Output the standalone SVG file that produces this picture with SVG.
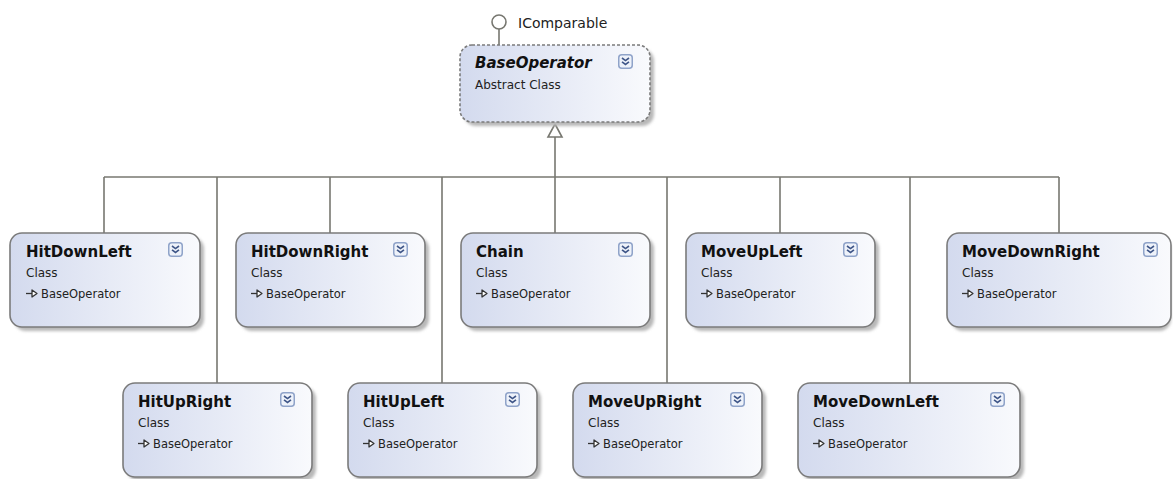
<svg xmlns="http://www.w3.org/2000/svg" xmlns:xlink="http://www.w3.org/1999/xlink" width="1173" height="479" viewBox="0 0 1173 479">
<defs>
  <linearGradient id="fillGrad" x1="0" y1="0" x2="1" y2="0">
    <stop offset="0" stop-color="#d3daee"/>
    <stop offset="1" stop-color="#f9fafd"/>
  </linearGradient>
  <filter id="blur" x="-10%" y="-10%" width="120%" height="130%">
    <feGaussianBlur stdDeviation="1.5"/>
  </filter>
  <symbol id="chev" viewBox="0 0 15 15" width="15" height="15" overflow="visible">
    <rect x="0.75" y="0.75" width="13.5" height="13.5" rx="3" fill="#eef2fa" stroke="#8fa3c9" stroke-width="1.5"/>
    <path d="M4 4 L7.5 6.6 L11 4 M4 7.8 L7.5 10.4 L11 7.8" fill="none" stroke="#3f5688" stroke-width="1.6"/>
  </symbol>
  <symbol id="inh" viewBox="0 0 13 9" width="13" height="9" overflow="visible">
    <path d="M0 4.5 H6" stroke="#333" stroke-width="1.3"/>
    <path d="M6 1 L11 4.5 L6 8 Z" fill="#fff" stroke="#333" stroke-width="1.3" stroke-linejoin="round"/>
  </symbol>
</defs>
<style>
  .box { fill: url(#fillGrad); stroke: #7b7b7b; stroke-width: 1.6; }
  .abstract { stroke-dasharray: 3 2; }
  .shadow { fill: #b8b8b8; filter: url(#blur); }
  .title { font-family: "DejaVu Sans", "Liberation Sans", sans-serif; font-size: 15px; font-weight: bold; fill: #111; }
  .ital { font-style: italic; }
  .sub { font-family: "DejaVu Sans", "Liberation Sans", sans-serif; font-size: 12px; fill: #222; }
  .base { font-family: "DejaVu Sans", "Liberation Sans", sans-serif; font-size: 11.5px; fill: #222; }
  .iface { font-family: "DejaVu Sans", "Liberation Sans", sans-serif; font-size: 14px; fill: #222; }
  .conn { fill: none; stroke: #777770; stroke-width: 1.6; }
</style>
<rect width="1173" height="479" fill="#ffffff"/>

<g id="connectors">
  <path class="conn" d="M499 29 V45"/>
  <circle cx="499" cy="22" r="7" fill="#fff" stroke="#777770" stroke-width="1.6"/>
  <path class="conn" d="M555 137 V177"/>
  <path d="M555 124 L562 137 L548 137 Z" fill="#fff" stroke="#777770" stroke-width="1.6" stroke-linejoin="miter"/>
  <path class="conn" d="M104 177 H1059"/>
  <path class="conn" d="M104 177 V233"/>
  <path class="conn" d="M330 177 V233"/>
  <path class="conn" d="M555 177 V233"/>
  <path class="conn" d="M780 177 V233"/>
  <path class="conn" d="M1059 177 V233"/>
  <path class="conn" d="M217 177 V383"/>
  <path class="conn" d="M442 177 V383"/>
  <path class="conn" d="M667 177 V383"/>
  <path class="conn" d="M910 177 V383"/>
</g>

<g id="IComparable">
  <text class="iface" x="518" y="28">IComparable</text>
</g>

<g id="BaseOperator">
  <rect class="shadow" x="464" y="49" width="190" height="77" rx="12"/>
  <rect class="box abstract" x="460" y="45" width="190" height="77" rx="12"/>
  <text class="title ital" x="475" y="68">BaseOperator</text>
  <text class="sub" x="475" y="89">Abstract Class</text>
  <use xlink:href="#chev" x="618" y="54"/>
</g>

<g id="HitDownLeft">
  <rect class="shadow" x="14" y="237" width="190" height="94" rx="12"/>
  <rect class="box" x="10" y="233" width="190" height="94" rx="12"/>
  <text class="title" x="26" y="257">HitDownLeft</text>
  <text class="sub" x="26" y="277">Class</text>
  <use xlink:href="#inh" x="26" y="289"/>
  <text class="base" x="41" y="298">BaseOperator</text>
  <use xlink:href="#chev" x="168" y="242"/>
</g>

<g id="HitDownRight">
  <rect class="shadow" x="240" y="237" width="189" height="94" rx="12"/>
  <rect class="box" x="236" y="233" width="189" height="94" rx="12"/>
  <text class="title" x="251" y="257">HitDownRight</text>
  <text class="sub" x="251" y="277">Class</text>
  <use xlink:href="#inh" x="251" y="289"/>
  <text class="base" x="266" y="298">BaseOperator</text>
  <use xlink:href="#chev" x="393" y="242"/>
</g>

<g id="Chain">
  <rect class="shadow" x="465" y="237" width="189" height="94" rx="12"/>
  <rect class="box" x="461" y="233" width="189" height="94" rx="12"/>
  <text class="title" x="476" y="257">Chain</text>
  <text class="sub" x="476" y="277">Class</text>
  <use xlink:href="#inh" x="476" y="289"/>
  <text class="base" x="491" y="298">BaseOperator</text>
  <use xlink:href="#chev" x="618" y="242"/>
</g>

<g id="MoveUpLeft">
  <rect class="shadow" x="690" y="237" width="189" height="94" rx="12"/>
  <rect class="box" x="686" y="233" width="189" height="94" rx="12"/>
  <text class="title" x="701" y="257">MoveUpLeft</text>
  <text class="sub" x="701" y="277">Class</text>
  <use xlink:href="#inh" x="701" y="289"/>
  <text class="base" x="716" y="298">BaseOperator</text>
  <use xlink:href="#chev" x="843" y="242"/>
</g>

<g id="MoveDownRight">
  <rect class="shadow" x="951" y="237" width="220" height="94" rx="12"/>
  <rect class="box" x="947" y="233" width="224" height="94" rx="12"/>
  <text class="title" x="962" y="257">MoveDownRight</text>
  <text class="sub" x="962" y="277">Class</text>
  <use xlink:href="#inh" x="962" y="289"/>
  <text class="base" x="977" y="298">BaseOperator</text>
  <use xlink:href="#chev" x="1143" y="242"/>
</g>

<g id="HitUpRight">
  <rect class="shadow" x="127" y="387" width="189" height="94" rx="12"/>
  <rect class="box" x="123" y="383" width="189" height="94" rx="12"/>
  <text class="title" x="138" y="407">HitUpRight</text>
  <text class="sub" x="138" y="427">Class</text>
  <use xlink:href="#inh" x="138" y="439"/>
  <text class="base" x="153" y="448">BaseOperator</text>
  <use xlink:href="#chev" x="280" y="392"/>
</g>

<g id="HitUpLeft">
  <rect class="shadow" x="352" y="387" width="189" height="94" rx="12"/>
  <rect class="box" x="348" y="383" width="189" height="94" rx="12"/>
  <text class="title" x="363" y="407">HitUpLeft</text>
  <text class="sub" x="363" y="427">Class</text>
  <use xlink:href="#inh" x="363" y="439"/>
  <text class="base" x="378" y="448">BaseOperator</text>
  <use xlink:href="#chev" x="505" y="392"/>
</g>

<g id="MoveUpRight">
  <rect class="shadow" x="577" y="387" width="189" height="94" rx="12"/>
  <rect class="box" x="573" y="383" width="189" height="94" rx="12"/>
  <text class="title" x="588" y="407">MoveUpRight</text>
  <text class="sub" x="588" y="427">Class</text>
  <use xlink:href="#inh" x="588" y="439"/>
  <text class="base" x="603" y="448">BaseOperator</text>
  <use xlink:href="#chev" x="730" y="392"/>
</g>

<g id="MoveDownLeft">
  <rect class="shadow" x="802" y="387" width="222" height="94" rx="12"/>
  <rect class="box" x="798" y="383" width="222" height="94" rx="12"/>
  <text class="title" x="813" y="407">MoveDownLeft</text>
  <text class="sub" x="813" y="427">Class</text>
  <use xlink:href="#inh" x="813" y="439"/>
  <text class="base" x="828" y="448">BaseOperator</text>
  <use xlink:href="#chev" x="990" y="392"/>
</g>
</svg>
